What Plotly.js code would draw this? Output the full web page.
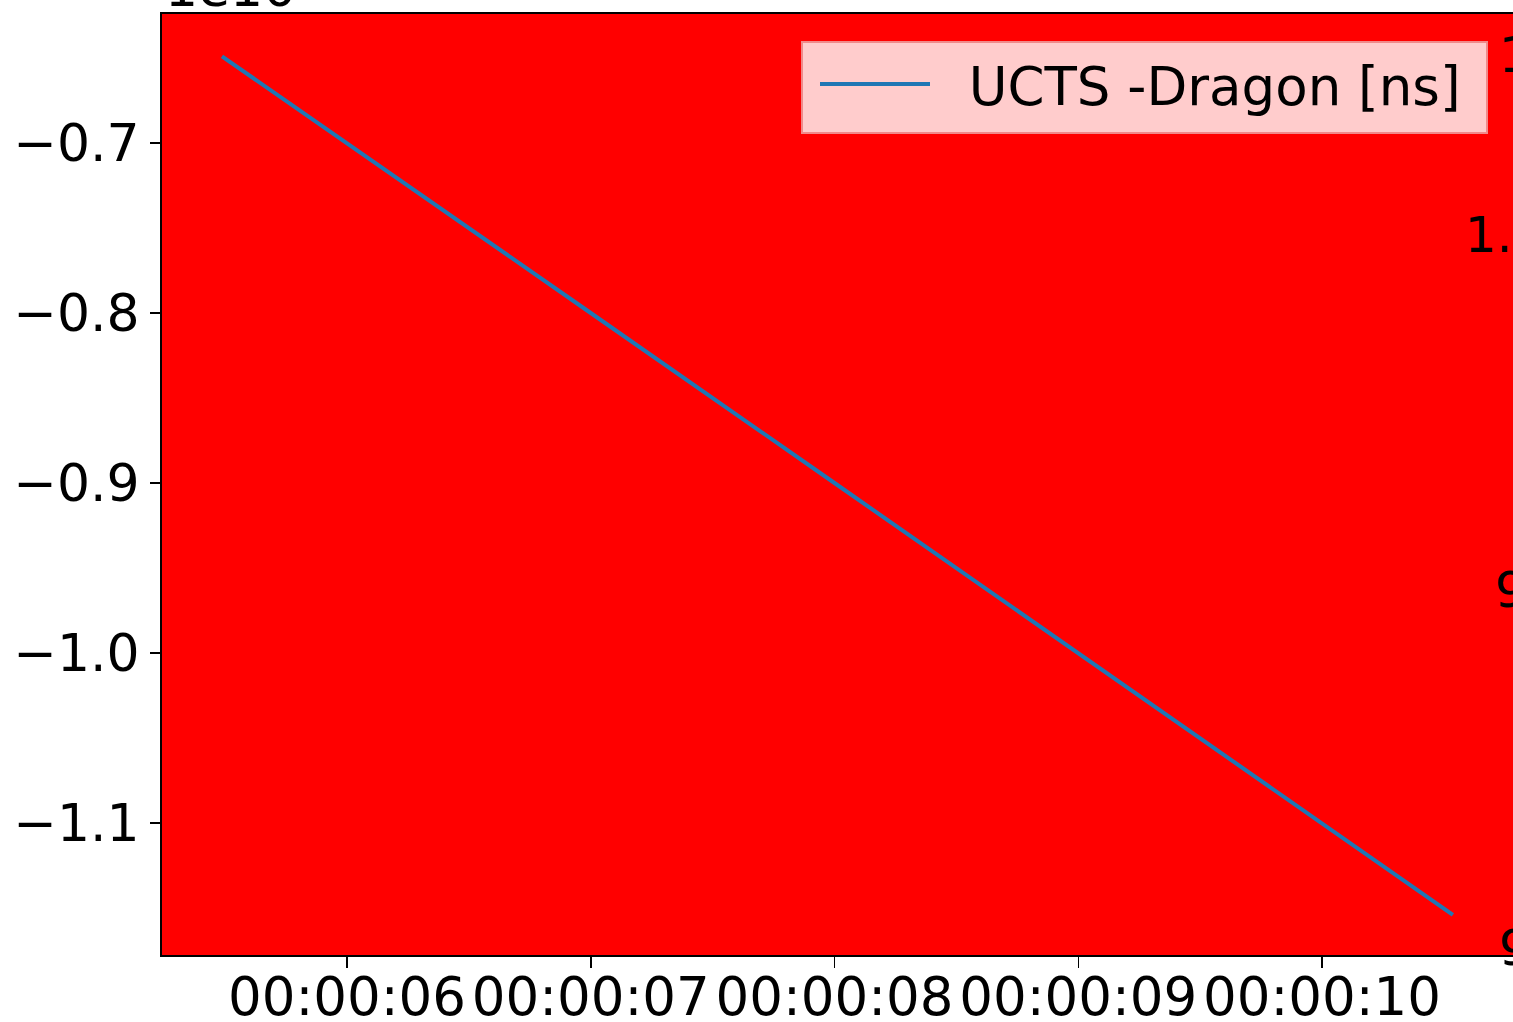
<!DOCTYPE html>
<html>
<head>
<meta charset="utf-8">
<script src="https://cdn.plot.ly/plotly-3.0.1.min.js"></script>
<style>
  html, body { margin: 0; padding: 0; background: #ffffff; }
  #chart { width: 1513px; height: 1022px; }
</style>
</head>
<body>
<div id="chart"></div>
<script>
// ---- data ----
const times = [
  '1970-01-01 00:00:05.487',
  '1970-01-01 00:00:06.000',
  '1970-01-01 00:00:07.000',
  '1970-01-01 00:00:08.000',
  '1970-01-01 00:00:09.000',
  '1970-01-01 00:00:10.000',
  '1970-01-01 00:00:10.537'
];
const uctsMinusDragon = [-0.649, -0.700, -0.800, -0.900, -1.000, -1.100, -1.154];
const seriesName = 'UCTS -Dragon [ns]';
const yTickVals = [-0.7, -0.8, -0.9, -1.0, -1.1];
const yTickText = ['\u22120.7', '\u22120.8', '\u22120.9', '\u22121.0', '\u22121.1'];
const rightLabels = ['1', '1.', '9', '9'];
const offsetText = '1e10';

// ---- layout geometry (pixels) ----
const W = 1513, H = 1022;
const L = 162, R = 0, T = 14, B = 67;
const pw = W - L - R, ph = H - T - B;
const px = x => (x - L) / pw;
const py = y => (H - B - y) / ph;

const font = 'DejaVu Sans, sans-serif';

const trace = {
  x: times,
  y: uctsMinusDragon,
  type: 'scatter',
  mode: 'lines',
  name: '\u00a0\u00a0' + seriesName,
  line: { color: '#1f77b4', width: 4 }
};

const rightPos = [[1497, 55], [1463, 235], [1493, 590], [1497, 948]];
const annotations = rightLabels.map((t, i) => ({
  text: t, xref: 'paper', yref: 'paper',
  x: px(rightPos[i][0]), y: py(rightPos[i][1]),
  xanchor: 'left', yanchor: 'middle', showarrow: false,
  font: { family: font, size: 50, color: '#000' }
}));
annotations.push({
  text: offsetText, xref: 'paper', yref: 'paper',
  x: px(163), y: py(20), xanchor: 'left', yanchor: 'bottom',
  showarrow: false, font: { family: font, size: 52, color: '#000' }
});

// legend frame (drawn above the trace, under the legend entry)
const shapes = [{
  type: 'rect', xref: 'paper', yref: 'paper', layer: 'above',
  x0: px(802), x1: px(1487), y0: py(133), y1: py(42),
  fillcolor: '#ffcccc', line: { color: '#f08a8a', width: 2 }
}];

const layout = {
  width: W, height: H,
  margin: { l: L, r: R, t: T, b: B, pad: 0 },
  paper_bgcolor: '#ffffff',
  plot_bgcolor: '#ff0000',
  showlegend: true,
  legend: {
    x: px(815), y: py(43), xanchor: 'left', yanchor: 'top',
    bgcolor: 'rgba(0,0,0,0)', borderwidth: 0,
    font: { family: font, size: 53, color: '#000' },
    itemwidth: 110
  },
  xaxis: {
    type: 'date',
    range: ['1970-01-01 00:00:05.241', '1970-01-01 00:00:10.7836'],
    tick0: '1970-01-01 00:00:06', dtick: 1000,
    tickformat: '%H:%M:%S',
    showgrid: false, zeroline: false,
    showline: true, linecolor: '#000', linewidth: 2, mirror: true,
    ticks: 'outside', ticklen: 11, tickwidth: 1.5, tickcolor: '#000',
    ticklabelstandoff: -17,
    tickfont: { family: font, size: 53, color: '#000' }
  },
  yaxis: {
    range: [-1.17765, -0.62412],
    tickvals: yTickVals, ticktext: yTickText,
    showgrid: false, zeroline: false,
    showline: true, linecolor: '#000', linewidth: 2,
    ticks: 'outside', ticklen: 10, tickwidth: 1.5, tickcolor: '#000',
    tickfont: { family: font, size: 52, color: '#000' }
  },
  shapes: shapes,
  annotations: annotations
};

Plotly.newPlot('chart', [trace], layout, { displayModeBar: false, staticPlot: true });
</script>
</body>
</html>
